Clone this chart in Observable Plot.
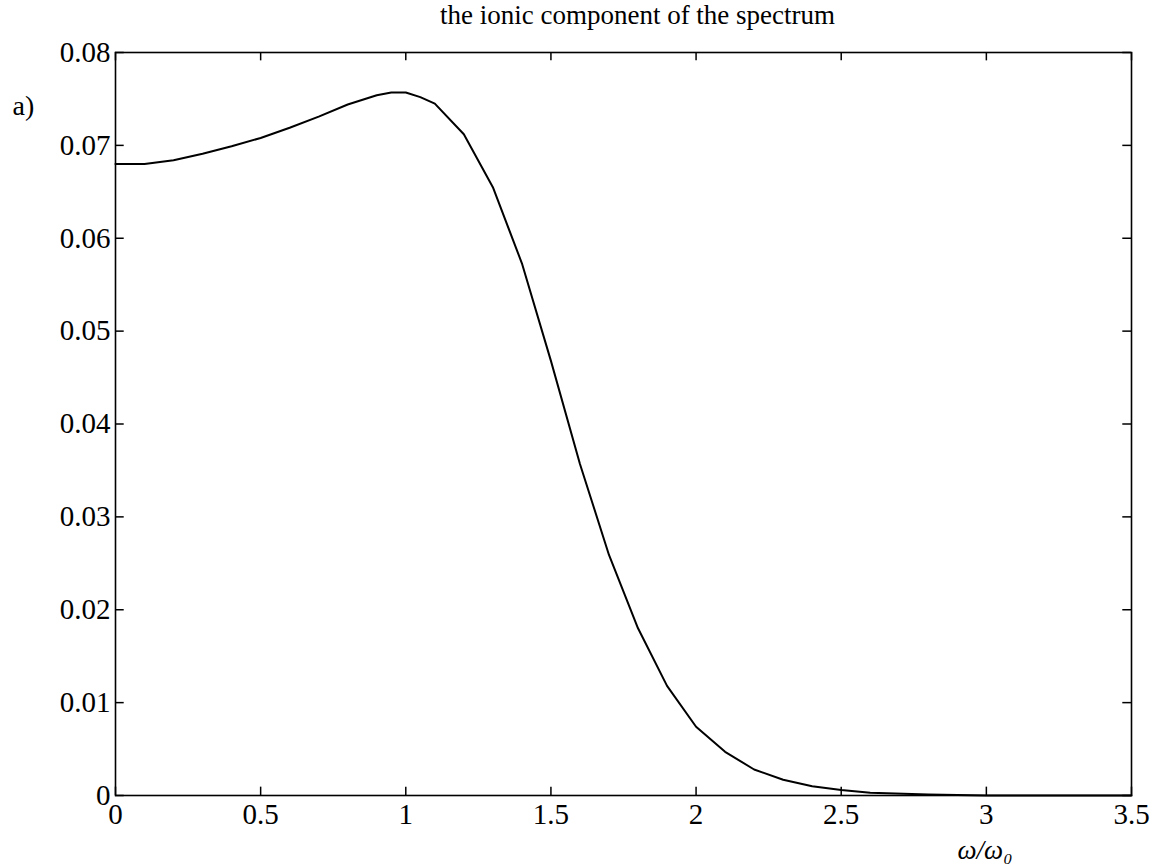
<!DOCTYPE html>
<html>
<head>
<meta charset="utf-8">
<script src="https://cdn.jsdelivr.net/npm/d3@7"></script>
<script src="https://cdn.jsdelivr.net/npm/@observablehq/plot@0.6"></script>
<style>
  html, body { margin: 0; padding: 0; background: white; }
</style>
</head>
<body>
<div id="chart"></div>
<script>
const xTicks = [0, 0.5, 1, 1.5, 2, 2.5, 3, 3.5];
const yTicks = [0, 0.01, 0.02, 0.03, 0.04, 0.05, 0.06, 0.07, 0.08];
const omega = [0, 0.1, 0.2, 0.3, 0.4, 0.5, 0.6, 0.7, 0.8, 0.9, 0.95, 1.0, 1.05, 1.1, 1.2, 1.3, 1.4, 1.5, 1.6, 1.7, 1.8, 1.9, 2.0, 2.1, 2.2, 2.3, 2.4, 2.5, 2.6, 2.8, 3.0, 3.5];
const spectrum = [0.0680, 0.0680, 0.0684, 0.0691, 0.0699, 0.0708, 0.0719, 0.0731, 0.0744, 0.0754, 0.0757, 0.0757, 0.0752, 0.0745, 0.0712, 0.0655, 0.0573, 0.0468, 0.0357, 0.0259, 0.0180, 0.0118, 0.0074, 0.0047, 0.0028, 0.0017, 0.0010, 0.0006, 0.0003, 0.0001, 0.0000, 0.0000];
const titleText = "the ionic component of the spectrum";
const panelText = "a)";
const xLabelText = "ω/ω₀";

const data = omega.map((x, i) => ({x, y: spectrum[i]}));

const chart = Plot.plot({
  width: 1154,
  height: 864,
  marginLeft: 115,
  marginRight: 23,
  marginTop: 52,
  marginBottom: 69,
  style: {fontFamily: "'Liberation Serif', 'DejaVu Serif', serif", background: "white", color: "black"},
  x: {domain: [0, 3.5]},
  y: {domain: [0, 0.08]},
  marks: [
    Plot.frame({stroke: "black", strokeWidth: 1.6}),
    Plot.ruleX(xTicks, {y1: 0, y2: 0.0009, stroke: "black", strokeWidth: 1.5}),
    Plot.ruleX(xTicks, {y1: 0.08, y2: 0.0791, stroke: "black", strokeWidth: 1.5}),
    Plot.ruleY(yTicks, {x1: 0, x2: 0.03, stroke: "black", strokeWidth: 1.5}),
    Plot.ruleY(yTicks, {x1: 3.5, x2: 3.47, stroke: "black", strokeWidth: 1.5}),
    Plot.axisX(xTicks, {tickSize: 0, tickPadding: 8, fontSize: 29, label: null, tickFormat: d => String(d)}),
    Plot.axisY(yTicks, {tickSize: 0, tickPadding: 5, fontSize: 29, label: null, tickFormat: d => d === 0 ? "0" : d.toFixed(2)}),
    Plot.line(data, {x: "x", y: "y", stroke: "black", strokeWidth: 2}),
    Plot.text([titleText], {frameAnchor: "top", lineAnchor: "middle", dx: 14, dy: -37, fontSize: 27, fill: "black"}),
    Plot.text([panelText], {frameAnchor: "top-left", lineAnchor: "middle", textAnchor: "start", dx: -103, dy: 54, fontSize: 28, fill: "black"}),
    Plot.text([xLabelText], {frameAnchor: "bottom", lineAnchor: "middle", textAnchor: "start", dx: 334, dy: 55, fontSize: 27, fontStyle: "italic", fill: "black"})
  ]
});
document.getElementById("chart").appendChild(chart);
</script>
</body>
</html>
